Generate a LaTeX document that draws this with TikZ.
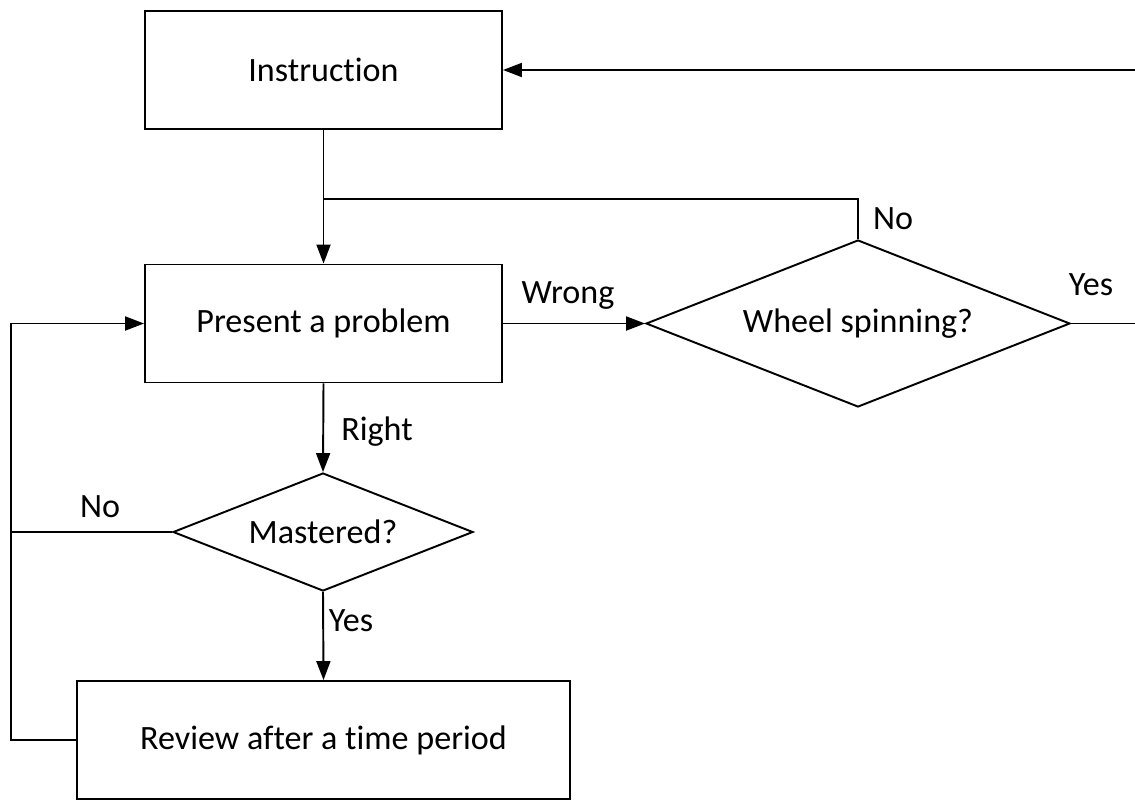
\documentclass[tikz,border=0pt]{standalone}
\usepackage{fontspec}
\setmainfont{Carlito}[Ligatures=NoCommon]
\usetikzlibrary{positioning,shapes.geometric,arrows.meta}

\begin{document}
\begin{tikzpicture}[line width=1.1pt,
                every node/.style={font=\fontsize{19.4}{23}\selectfont},
                box/.style={draw, rectangle, minimum width=7.14cm, minimum height=2.36cm},
                decision/.style={draw, diamond, inner sep=0pt, aspect=2.54},
                lbl/.style={inner sep=0pt},
                arr/.style={-{Triangle[length=0.38cm,width=0.28cm]}}]
            \useasboundingbox (0,0) rectangle (22.7,-16.04);

            % steps and decisions
            \node[box] (inst) at (6.47,-1.40) {Instruction};
            \node[box] (prob) at (6.47,-6.47) {Present a problem};
            \node[decision, minimum width=8.48cm, minimum height=3.34cm] (wheel) at (17.16,-6.47) {Wheel spinning?};
            \node[decision, minimum width=6.0cm, minimum height=2.36cm] (mast) at (6.46,-10.64) {Mastered?};
            \node[box, minimum width=9.86cm] (rev) at (6.47,-14.80) {Review after a time period};

            \coordinate (back) at (22.7,-1.40);
            \coordinate (out) at (22.7,-6.47);
            \coordinate (merge) at (6.47,-3.98);
            \coordinate (loop) at (0.22,-6.47);

            % connectors
            \draw[arr] (back) -- (inst.east);
            \draw[arr] (inst.south) -- (prob.north);
            \draw (wheel.north) |- (merge);
            \draw[arr] (prob.east) -- (wheel.west);
            \draw (wheel.east) -- (out);
            \draw[arr] (prob.south) -- (mast.north);
            \draw[arr] (mast.south) -- (rev.north);
            \draw (mast.west) -- (mast.west -| loop);
            \draw[arr] (rev.west) -| (loop) -- (prob.west);

            % labels
            \node[lbl] (nowheel) at (17.86,-4.38) {No};
            \node[lbl] (wrong) at (11.36,-5.90) {Wrong};
            \node[lbl] (yeswheel) at (21.82,-5.70) {Yes};
            \node[lbl] (right) at (7.54,-8.64) {Right};
            \node[lbl] (nomast) at (2.0,-10.14) {No};
            \node[lbl] (yesmast) at (7.02,-12.42) {Yes};
        \end{tikzpicture}
\end{document}
